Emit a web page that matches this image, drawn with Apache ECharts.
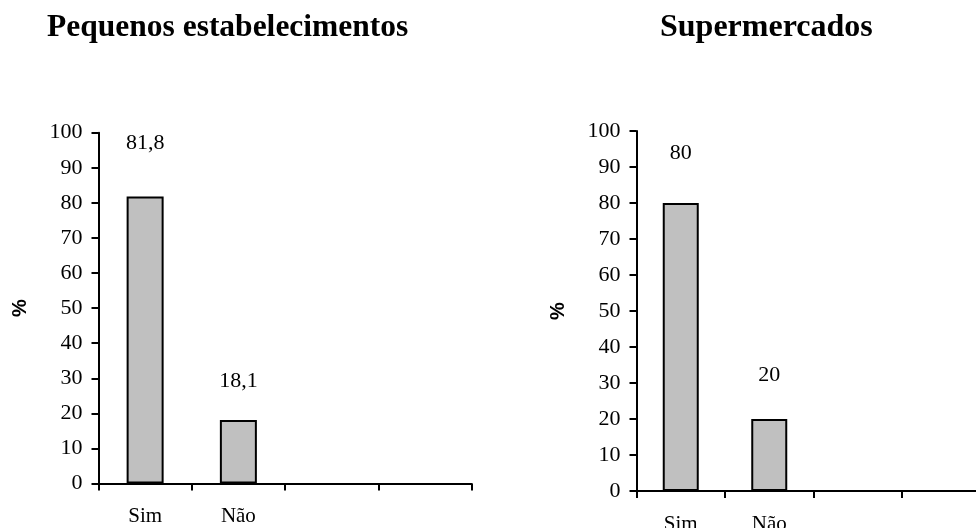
<!DOCTYPE html>
<html>
<head>
<meta charset="utf-8">
<script src="https://cdn.jsdelivr.net/npm/echarts@6/dist/echarts.min.js"></script>
<style>
html,body{margin:0;padding:0;background:#fff;}
#chart{width:976px;height:528px;}
</style>
</head>
<body>
<div id="chart"></div>
<script>
// ---- data ----
const categories = ['Sim', 'Não', '', ''];
const titleLeft = 'Pequenos estabelecimentos';
const titleRight = 'Supermercados';
const valuesLeft = [81.8, 18.1];
const valuesRight = [80, 20];
const yTicks = [0, 10, 20, 30, 40, 50, 60, 70, 80, 90, 100];
const axisName = '%';

// ---- style ----
const serif = '"Liberation Serif", "Times New Roman", serif';
const sans = '"Liberation Sans", Arial, sans-serif';
const labelGapLeft = [42, 28];
const labelGapRight = [39, 33];

function seriesData(values, gaps) {
  return values.map((v, i) => ({ value: v, label: { distance: gaps[i] } }));
}

const chart = echarts.init(document.getElementById('chart'), null, { renderer: 'canvas' });

function xAxis(gridIndex, margin) {
  return {
    type: 'category', gridIndex, data: categories,
    axisLine: { lineStyle: { color: '#000', width: 2 } },
    axisTick: { show: true, length: 7, lineStyle: { color: '#000', width: 2 } },
    axisLabel: { color: '#000', fontFamily: serif, fontSize: 21, margin: margin, interval: 0 }
  };
}
function yAxis(gridIndex, gap) {
  return {
    type: 'value', gridIndex, min: yTicks[0], max: yTicks[yTicks.length - 1], interval: 10,
    name: axisName, nameLocation: 'middle', nameRotate: 90, nameGap: gap,
    nameTextStyle: { color: '#000', fontFamily: sans, fontWeight: 'bold', fontSize: 20 },
    axisLine: { show: true, lineStyle: { color: '#000', width: 2 } },
    axisTick: { show: true, length: 7, lineStyle: { color: '#000', width: 2 } },
    axisLabel: { color: '#000', fontFamily: serif, fontSize: 22, margin: 16 },
    splitLine: { show: false }
  };
}
function barSeries(idx, values, gaps, bw) {
  return {
    type: 'bar', xAxisIndex: idx, yAxisIndex: idx, barWidth: bw,
    data: seriesData(values, gaps),
    itemStyle: { color: '#c0c0c0', borderColor: '#000', borderWidth: 2 },
    label: {
      show: true, position: 'top', color: '#000', fontFamily: serif, fontSize: 22,
      formatter: p => String(p.value).replace('.', ',')
    },
    animation: false
  };
}

chart.setOption({
  animation: false,
  backgroundColor: '#fff',
  title: [
    { text: titleLeft, left: 42, top: 7, textStyle: { fontFamily: serif, fontWeight: 'bold', fontSize: 31.5, color: '#000' } },
    { text: titleRight, left: 655, top: 7, textStyle: { fontFamily: serif, fontWeight: 'bold', fontSize: 32, color: '#000' } }
  ],
  grid: [
    { left: 98.5, top: 132.7, right: 504.5, height: 350.8, outerBoundsMode: 'none', containLabel: false },
    { left: 636.5, top: 131, right: -14.5, height: 360, outerBoundsMode: 'none', containLabel: false }
  ],
  xAxis: [xAxis(0, 22), xAxis(1, 23)],
  yAxis: [yAxis(0, 68), yAxis(1, 68)],
  series: [barSeries(0, valuesLeft, labelGapLeft, 37), barSeries(1, valuesRight, labelGapRight, 36)]
});
</script>
</body>
</html>
